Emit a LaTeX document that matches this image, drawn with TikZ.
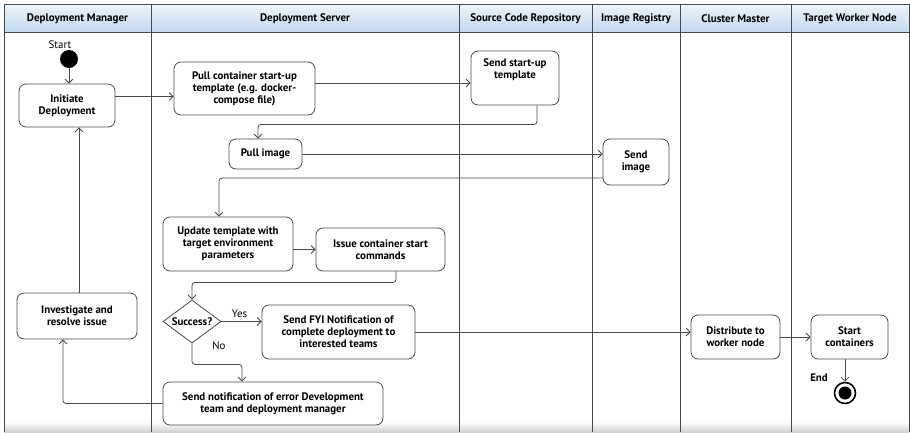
\documentclass[tikz,border=0pt]{standalone}
\usepackage{fontspec}
\setmainfont{PT Sans}
\usetikzlibrary{arrows.meta,shapes.geometric,calc}
\definecolor{frameline}{HTML}{4A4A4A}
\definecolor{headtop}{HTML}{EEF4FB}
\definecolor{headbot}{HTML}{C3D8EE}
\tikzset{
  act/.style={draw=frameline, line width=0.8pt, rounded corners=7pt, fill=white,
    align=center, inner sep=2pt, font=\bfseries\fontsize{10.9}{12}\selectfont},
  decision/.style={draw=frameline, line width=0.8pt, diamond, aspect=1.35, fill=white,
    inner sep=0pt, minimum width=58pt, minimum height=43pt,
    font=\bfseries\fontsize{10.9}{12}\selectfont},
  flow/.style={draw=frameline, line width=0.8pt, rounded corners=3pt,
    -{Straight Barb[length=4pt,width=8pt,line width=0.8pt]}},
  lane/.style={draw=frameline, line width=1pt},
  lanehead/.style={font=\bfseries\fontsize{11}{12}\selectfont, anchor=center},
  plain/.style={font=\fontsize{10.9}{12}\selectfont},
}
\begin{document}
\begin{tikzpicture}[x=1pt,y=-1pt]
\useasboundingbox (0,0) rectangle (910,432);
\fill[white] (0,0) rectangle (910,432);
% faint shadow along the bottom edge
\shade[top color=white, bottom color=black!18] (4,422) rectangle (909,432);
% header band
\shade[top color=headtop, bottom color=headbot] (4,4) rectangle (909,32);
\draw[lane] (4,32) -- (909,32);
\draw[lane] (4,432) -- (4,4) -- (909,4) -- (909,432);
\foreach \x in {151,459,592,680,791} \draw[lane] (\x,4) -- (\x,432);
% lane titles
\node[lanehead] (h1) at (77.5,19) {Deployment Manager};
\node[lanehead] (h2) at (305,19) {Deployment Server};
\node[lanehead] (h3) at (525.5,19) {Source Code Repository};
\node[lanehead] (h4) at (636,19) {Image Registry};
\node[lanehead] (h5) at (735.5,19) {Cluster Master};
\node[lanehead] (h6) at (850,19) {Target Worker Node};

% initial and final states
\node[circle, fill=black, minimum size=18pt, inner sep=0pt] (start) at (69,59) {};
\node[plain, anchor=south] (startlbl) at (60,52) {Start};
\node[circle, draw=black, line width=1.6pt, fill=white, minimum size=21pt, inner sep=0pt] (end) at (845,393) {};
\node[circle, fill=black, minimum size=13pt, inner sep=0pt] (endcore) at (end) {};
\node[plain, font=\bfseries\fontsize{10.9}{12}\selectfont] (endlbl) at (819,378) {End};

% activities
\node[act, minimum width=96pt, minimum height=43pt] (init) at (67,105.5) {Initiate\\Deployment};
\node[act, minimum width=141pt, minimum height=53pt] (pull) at (244.5,88.5) {Pull container start-up\\template (e.g. docker-\\compose file)};
\node[act, minimum width=88pt, minimum height=54pt, text depth=18pt] (sst) at (515,78) {Send start-up\\template};
\node[act, minimum width=73pt, minimum height=30pt] (pimg) at (265.5,154) {Pull image};
\node[act, minimum width=66pt, minimum height=46pt] (simg) at (636,162) {Send\\image};
\node[act, minimum width=130pt, minimum height=54pt] (upd) at (228,244) {Update template with\\target environment\\parameters};
\node[act, minimum width=129pt, minimum height=43pt] (issue) at (380.5,249.5) {Issue container start\\commands};
\node[decision] (dia) at (192,321.5) {Success?};
\node[act, minimum width=153pt, minimum height=54pt] (fyi) at (338.5,332) {Send FYI Notification of\\complete deployment to\\interested teams};
\node[act, minimum width=120pt, minimum height=46pt] (inv) at (77,316) {Investigate and\\resolve issue};
\node[act, minimum width=220pt, minimum height=43pt] (err) at (273,403.5) {Send notification of error Development\\team and deployment manager};
\node[act, minimum width=89pt, minimum height=44pt] (dist) at (735.5,337) {Distribute to\\worker node};
\node[act, minimum width=77pt, minimum height=44pt] (startc) at (849.5,337) {Start\\containers};

% control flow
\draw[flow] (start) -- (start |- init.north);
\draw[flow] ([yshift=9pt]init.east) -- ([yshift=9pt]init.east -| pull.west);
\draw[flow] ([yshift=5.5pt]pull.east) -- ([yshift=5.5pt]pull.east -| sst.west);
\draw[flow] ([xshift=22pt]sst.south) -- ++(0,19) -| ([xshift=-7.5pt]pimg.north);
\draw[flow] (pimg.east) -- (pimg.east -| simg.west);
\draw[flow] ([yshift=-16pt]simg.west) -| ([xshift=-9pt]upd.north);
\draw[flow] (upd.east |- issue.west) -- (issue.west);
\draw[flow] ([xshift=15.5pt]issue.south) -- ++(0,11) -| (dia.north);
\draw[flow] (dia.east) -- node[plain, above, pos=0.45] (yes) {Yes} (dia.east -| fyi.west);
\draw[flow] (dia.south) -- ++(0,21) -| ([xshift=-31pt]err.north);
\node[plain] (no) at (219,346) {No};
\draw[flow] (fyi.east) -- (fyi.east -| dist.west);
\draw[flow] (dist.east) -- (startc.west);
\draw[flow] (end.north |- startc.south) -- (end.north);
\draw[flow] (err.west) -| ([xshift=-14pt]inv.south);
\draw[flow] ([xshift=12pt]init.south |- inv.north) -- ([xshift=12pt]init.south);
\end{tikzpicture}
\end{document}
